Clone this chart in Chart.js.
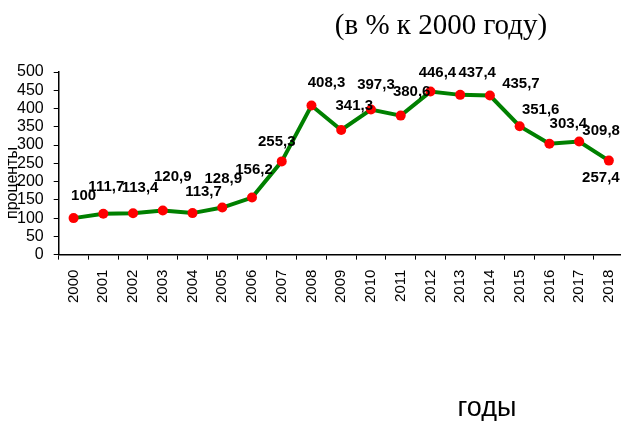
<!DOCTYPE html>
<html><head><meta charset="utf-8">
<script src="https://cdn.jsdelivr.net/npm/chart.js@4/dist/chart.umd.min.js"></script>
<style>html,body{margin:0;padding:0;background:#fff;overflow:hidden;}#wrap{width:637px;height:421px;}</style>
</head><body><div id="wrap"><canvas id="c" width="637" height="421"></canvas></div>
<script>
const years = ['2000','2001','2002','2003','2004','2005','2006','2007','2008','2009','2010','2011','2012','2013','2014','2015','2016','2017','2018'];
const percents = [100, 111.7, 113.4, 120.9, 113.7, 128.9, 156.2, 255.3, 408.3, 341.3, 397.3, 380.6, 446.4, 437.4, 435.7, 351.6, 303.4, 309.8, 257.4];
const yTicks = [0, 50, 100, 150, 200, 250, 300, 350, 400, 450, 500];
const titleText = '(в % к 2000 году)';
const yTitle = 'проценты';
const xTitle = 'годы';

const labelOffsets = [[10,-22],[3,-27],[7,-25],[10,-34],[11,-21],[1,-29],[2,-28],[-5,-20],[15,-23],[13,-24],[5,-25],[11,-24],[7,-19],[17,-22],[31,-12],[21,-16],[19,-20],[22,-11],[-8,17]];

const fmt = v => String(v).replace('.', ',');

const labelPlugin = {
  id: 'pointLabels',
  afterDatasetsDraw(chart) {
    const ctx = chart.ctx;
    const meta = chart.getDatasetMeta(0);
    ctx.save();
    ctx.font = 'bold 15px "Liberation Sans", Arial, sans-serif';
    ctx.fillStyle = '#000';
    ctx.textAlign = 'center';
    ctx.textBaseline = 'middle';
    meta.data.forEach((pt, i) => {
      const o = labelOffsets[i] || [0, -20];
      ctx.fillText(fmt(percents[i]), pt.x + o[0], pt.y + o[1]);
    });
    ctx.restore();
  }
};

const textPlugin = {
  id: 'texts',
  afterDraw(chart) {
    const ctx = chart.ctx;
    ctx.save();
    ctx.fillStyle = '#000';
    ctx.textAlign = 'center';
    ctx.textBaseline = 'middle';
    ctx.font = '29px "Liberation Serif", "Times New Roman", serif';
    ctx.fillText(titleText, 441, 26);
    ctx.font = '27px "Liberation Sans", Arial, sans-serif';
    ctx.fillText(xTitle, 487, 409);
    ctx.translate(13, 183);
    ctx.rotate(-Math.PI / 2);
    ctx.font = '16px "Liberation Sans", Arial, sans-serif';
    ctx.fillText(yTitle, 0, 0);
    ctx.restore();
  }
};

new Chart(document.getElementById('c'), {
  type: 'line',
  data: {
    labels: years,
    datasets: [{
      data: percents,
      borderColor: '#008000',
      borderWidth: 4,
      pointBackgroundColor: '#ff0000',
      pointBorderColor: '#ff0000',
      pointRadius: 5,
      pointBorderWidth: 0,
      tension: 0
    }]
  },
  options: {
    responsive: false,
    animation: false,
    layout: { padding: { top: 72, right: 2, left: 7, bottom: 108 } },
    plugins: { legend: { display: false }, tooltip: { enabled: false } },
    scales: {
      x: {
        offset: true,
        grid: { offset: true, drawOnChartArea: false, tickLength: 5, color: '#000' },
        border: { color: '#000', width: 1.5 },
        ticks: {
          color: '#000', font: { size: 15, family: '"Liberation Sans", Arial, sans-serif' },
          maxRotation: 90, minRotation: 90, padding: 10, autoSkip: false
        }
      },
      y: {
        min: 0, max: 500,
        afterBuildTicks(scale) { scale.ticks = yTicks.map(v => ({ value: v })); },
        grid: { drawOnChartArea: false, tickLength: 5, color: '#000' },
        border: { color: '#000', width: 1.5 },
        ticks: {
          color: '#000', font: { size: 16, family: '"Liberation Sans", Arial, sans-serif' },
          padding: 10, autoSkip: false
        }
      }
    }
  },
  plugins: [labelPlugin, textPlugin]
});
</script></body></html>
